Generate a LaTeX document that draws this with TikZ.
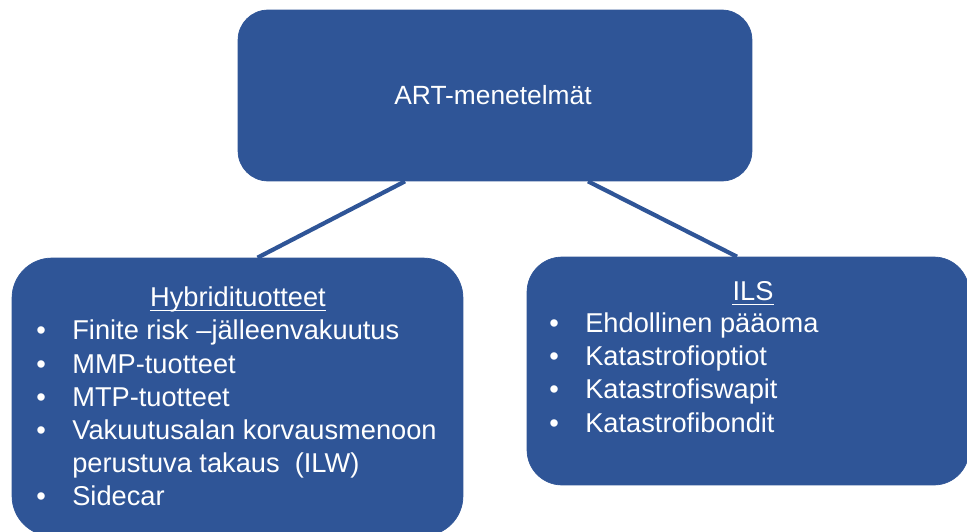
\documentclass[tikz,border=0pt]{standalone}
\usepackage{fontspec}
\setsansfont{Liberation Sans}
\usetikzlibrary{positioning}
\definecolor{navy}{HTML}{2F5597}
\newcommand{\bul}{\llap{\textbullet\hspace{5.3mm}}}

\begin{document}
\begin{tikzpicture}[
  x=0.02cm, y=-0.02cm,
  every node/.style={font=\sffamily\fontsize{15.5}{19}\selectfont, text=white},
  box/.style={rectangle, fill=navy, draw=navy, inner sep=0pt},
  link/.style={draw=navy, line width=2.4pt},
  itm/.style={anchor=base west, inner sep=0pt},
  hdr/.style={anchor=base, inner sep=0pt}
]
\useasboundingbox (0,0) rectangle (967,531);
% boxes
\node[box, rounded corners=0.6cm, minimum width=10.28cm, minimum height=3.42cm] (art) at (495,95.5) {};
\node[box, rounded corners=0.8cm, minimum width=9.02cm, minimum height=5.56cm] (hyb) at (237.5,397) {};
\node[box, rounded corners=0.7cm, minimum width=8.84cm, minimum height=4.56cm] (ils) at (748,371) {};
\draw[link] ([xshift=-1.8cm]art.south) -- ([xshift=0.4cm]hyb.north);
\draw[link] ([xshift=1.86cm]art.south) -- ([xshift=-0.22cm]ils.north);
\node[hdr, font=\sffamily\fontsize{15}{18}\selectfont] (title) at (493,104) {ART-menetelmät};
% left box
\node[hdr] (hh) at (238,306) {Hybridituotteet};
\draw[white, line width=0.6pt] ([yshift=-2.5pt]hh.base west) -- ([yshift=-2.5pt]hh.base east);
\node[itm] (h1) at (72,339) {\bul Finite risk –jälleenvakuutus};
\node[itm] (h2) at (72,373) {\bul MMP-tuotteet};
\node[itm] (h3) at (72,406) {\bul MTP-tuotteet};
\node[itm] (h4) at (72,439) {\bul Vakuutusalan korvausmenoon};
\node[itm] (h5) at (72,472) {perustuva takaus~ (ILW)};
\node[itm] (h6) at (72,505) {\bul Sidecar};
% right box
\node[hdr] (ih) at (753,300) {ILS};
\draw[white, line width=0.6pt] ([yshift=-2.5pt]ih.base west) -- ([yshift=-2.5pt]ih.base east);
\node[itm] (i1) at (585,332) {\bul Ehdollinen pääoma};
\node[itm] (i2) at (585,365) {\bul Katastrofioptiot};
\node[itm] (i3) at (585,398) {\bul Katastrofiswapit};
\node[itm] (i4) at (585,432) {\bul Katastrofibondit};
\end{tikzpicture}
\end{document}
